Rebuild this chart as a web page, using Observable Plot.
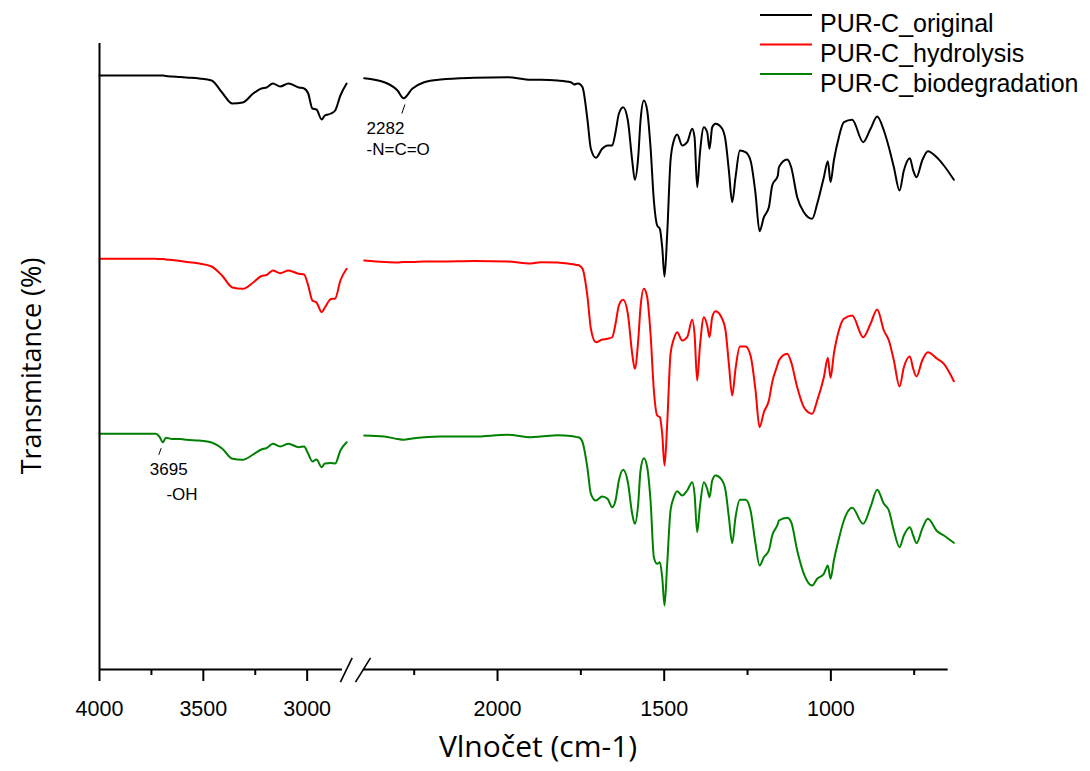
<!DOCTYPE html>
<html><head><meta charset="utf-8">
<script src="https://cdn.jsdelivr.net/npm/d3@7"></script>
<script src="https://cdn.jsdelivr.net/npm/@observablehq/plot@0.6"></script>
<style>
body{margin:0;background:#fff;}
#wrap{position:relative;width:1090px;height:771px;}
#legend{position:absolute;left:760px;top:0px;}
#ytitle{position:absolute;left:0px;top:0px;}
</style></head>
<body><div id="wrap"></div>
<script>
// Wavenumbers (cm-1), left segment of the broken axis
const wnLeft = [4000,3850,3730,3712,3695,3680,3650,3610,3580,3520,3460,3410,3360,3310,3260,3220,3195,3165,3130,3090,3040,3015,2995,2975,2955,2930,2915,2885,2865,2840,2810];
const originalLeft = [594,594,594,594,594,593.5,593,592.5,592,591,589,577,566,567,576,581,582,586,583,586,582,581,576,561,560,550,554,556,559,574,586];
const hydrolysisLeft = [410.7,410.7,410.7,410.5,410.5,410,409.5,408.5,407.5,406,403,394,382,380.7,387,393.5,394.5,399,396.3,399,395.7,395,384,369,367,357.3,362,370.5,371,389,400.7];
const biodegLeft = [235.7,235.7,235.7,233,227.3,231.7,230.5,230.5,229.7,229,227,221,210.7,209.7,215,220,221.5,225.7,223,225.7,222.3,223,215.7,208,210,202.3,206,206.5,206,219,227.3];

// Wavenumbers (cm-1), right segment
const wnRight = [2400,2340,2300,2282,2256,2220,2170,2070,1970,1900,
1870,1820,1780,1770,1760,1755,1745,1730,1720,1705,
1686,1670,1656,1646,1636,1623,1609,1596,1588,1578,
1571,1561,1551,1541,1531,1521,1513,1506,1499,1491,
1481,1471,1461,1446,1431,1416,1409,1401,1393,1381,
1371,1364,1356,1346,1326,1316,1306,1296,1286,1273,
1256,1241,1226,1214,1201,1186,1176,1159,1156,1131,
1119,1101,1081,1056,1041,1021,1009,1001,991,976,
961,936,903,881,861,841,826,811,794,781,
763,753,743,726,709,681,661,631];
const originalRight = [591.3,587.3,579,571.3,580.7,587.3,590,591.7,592.3,589.7,
589.7,589,587.3,585,586,585.7,582.3,549,520.7,511.7,
520.7,524,524,537.3,555.7,562.3,549,509,489.7,512.3,
549,569,559,522.3,469,444,440.7,422.3,393,435.7,
509,529,535,524,527.3,540.7,532.3,482.3,515.7,542.3,
537.3,520.7,542.3,545.7,540.7,529,499,467.3,492.3,519,
517.3,509,475.7,438.3,452.3,462.3,484,494,502.3,510,
502.3,472.3,457.3,450.7,465.7,492.3,508.3,487.3,509,532.3,
547.3,549.7,527.3,540.7,553,539,522.3,502.3,479,499,
511.3,499,492.3,509,518.3,511.7,504,489.7];
const hydrolysisRight = [409,407.5,407,407.5,407.5,408,408,408.5,408,406,
407.3,407,405.5,405,404.5,404,400.7,372.3,340.7,327.3,
330,330.7,332.3,345.7,364,369.7,355.7,315.7,300.7,329,
362.3,380.7,372.3,335.7,279,254,252.3,235.7,204,245.7,
315.7,330.7,337.3,329,332.3,349.7,335.7,289,322.3,352.3,
344,332.3,352.3,358.3,350.7,339,305.7,274,300.7,323,
323,314,279,242.3,257.3,269,287.3,305.7,309,315.7,
307.3,282.3,262.3,255.7,269,292.3,311.7,291.7,315.7,339,
350.7,354,332.3,345.7,360,339,329,309,283,302.3,
313,300.7,293,309,317.3,310.7,305.7,288.3];
const biodegRight = [234,233,230.5,229.7,231,232.3,233,233,234.7,232.3,
233,234.3,233.5,233,232.3,232,227.3,200.7,175.7,169,
173,170.7,162.3,169,189,199.7,187.3,155.7,145.7,165.7,
199,211.3,202.3,169,112.3,105.7,107.3,92.3,64,105.7,
159,172.3,178.3,174,179,187.3,175.7,137.3,162.3,187.3,
180.7,172.3,189,194,189,179,152.3,126.3,152.3,169.7,
169.7,159,125.7,104,112.3,119,134,145.7,149,151.7,
147.3,119,95.7,84,90.7,95.7,104,90.7,109,130.7,
149,161.7,145.7,162.3,179.7,165.7,159,139,122.3,134,
142.3,134,126.3,140.7,150.7,138.3,134,126.7];

const seriesNames = ["PUR-C_original","PUR-C_hydrolysis","PUR-C_biodegradation"];
const seriesColors = ["#000000","#ff0000","#008000"];
const majorTicks = [4000,3500,3000,2000,1500,1000];
const minorTicks = [3750,3250,2250,1750,1250,750];
const xTitle = "Vlnočet (cm-1)";
const yTitle = "Transmitance (%)";

// broken-axis mapping: wavenumber -> continuous axis coordinate
// left part (4000-2800) compressed, short gap (2800-2400), right part (2400-600) full scale
const brk = w => w >= 2800 ? (4000 - w) * 0.623
  : w >= 2400 ? 747.6 + (2800 - w) * 0.11625
  : 794.1 + (2400 - w);
const labelOf = list => p => { const w = list.find(v => Math.abs(brk(v) - p) < 1e-6); return w === undefined ? "" : String(w); };

const seriesData = [[originalLeft, originalRight],[hydrolysisLeft, hydrolysisRight],[biodegLeft, biodegRight]];
const rows = [];
seriesData.forEach(([L, R], i) => {
  wnLeft.forEach((w, j) => rows.push({wn: w, t: L[j], s: seriesNames[i], seg: i + "L"}));
  wnRight.forEach((w, j) => rows.push({wn: w, t: R[j], s: seriesNames[i], seg: i + "R"}));
});

const annIso = [{wn: 2282, t: originalRight[wnRight.indexOf(2282)]}];
const annOH = [{wn: 3695, t: biodegLeft[wnLeft.indexOf(3695)]}];
const X = d => brk(d.wn);

const chart = Plot.plot({
  width: 1090, height: 771,
  marginLeft: 99, marginRight: 126, marginTop: 43, marginBottom: 102,
  x: {domain: [brk(4000), brk(600)], range: [99, 963.7]},
  y: {domain: [0, 626], axis: null},
  color: {domain: seriesNames, range: seriesColors},
  style: {fontFamily: "'Liberation Sans', Arial, sans-serif", background: "white", overflow: "visible"},
  marks: [
    Plot.line(rows, {x: X, y: "t", stroke: "s", z: "seg", strokeWidth: 2, curve: "monotone-x"}),
    Plot.ruleX([brk(4000)], {y1: 0, y2: 626, strokeWidth: 2, stroke: "#000"}),
    Plot.ruleY([0], {x1: brk(4000), x2: brk(2830), strokeWidth: 2, stroke: "#000"}),
    Plot.ruleY([0], {x1: brk(2420), x2: brk(648), strokeWidth: 2, stroke: "#000"}),
    Plot.link([{a: 2840, y1: -12.7, b: 2710, y2: 11.7}, {a: 2625, y1: -12.7, b: 2381, y2: 11.7}],
      {x1: d => brk(d.a), y1: "y1", x2: d => brk(d.b), y2: "y2", stroke: "#000", strokeWidth: 1.6}),
    Plot.axisX({ticks: majorTicks.map(brk), tickSize: 12, tickPadding: 19, fontSize: 21.5, label: null,
      tickFormat: labelOf(majorTicks), strokeWidth: 2}),
    Plot.axisX({ticks: minorTicks.map(brk), tickSize: 6, label: null, tickFormat: () => "", strokeWidth: 2}),
    // annotations
    Plot.text(annIso, {x: X, y: "t", text: () => "2282\n-N=C=O", textAnchor: "start", lineAnchor: "top",
      dx: -37, dy: 20, fontSize: 17, lineHeight: 1.28, fill: "#000"}),
    Plot.link(annIso, {x1: d => brk(d.wn - 4), y1: d => d.t - 6.3, x2: d => brk(d.wn + 5), y2: d => d.t - 15.3, stroke: "#000", strokeWidth: 1}),
    Plot.text(annOH, {x: X, y: "t", text: () => "3695", textAnchor: "start", lineAnchor: "top",
      dx: -13, dy: 21, fontSize: 17, fill: "#000"}),
    Plot.text(annOH, {x: X, y: "t", text: () => "-OH", textAnchor: "start", lineAnchor: "top",
      dx: 3.6, dy: 45.6, fontSize: 17, fill: "#000"}),
    Plot.link(annOH, {x1: d => brk(d.wn + 8), y1: d => d.t - 6, x2: d => brk(d.wn + 19.5), y2: d => d.t - 12.6, stroke: "#000", strokeWidth: 1}),
    // x title
    Plot.text([xTitle], {frameAnchor: "bottom", lineAnchor: "middle", dx: 6, dy: 78, fontSize: 30, fontFamily: "'Open Sans', sans-serif", fill: "#000"})
  ]
});

const wrap = document.getElementById("wrap");
wrap.appendChild(chart);

// y title
const yt = d3.select(wrap).append("svg").attr("id", "ytitle").attr("width", 70).attr("height", 771);
yt.append("text").attr("transform", "translate(30,366) rotate(-90)")
  .attr("text-anchor", "middle").attr("dominant-baseline", "central")
  .attr("font-family", "'Open Sans', sans-serif").attr("font-size", 27).attr("fill", "#000")
  .text(yTitle);

// legend
const leg = d3.select(wrap).append("svg").attr("id", "legend").attr("width", 330).attr("height", 100);
seriesNames.forEach((name, i) => {
  const g = leg.append("g").attr("transform", `translate(0,${15 + i * 29.5})`);
  g.append("line").attr("x1", 0).attr("x2", 52).attr("y1", 0).attr("y2", 0)
    .attr("stroke", seriesColors[i]).attr("stroke-width", 2);
  g.append("text").attr("x", 60).attr("y", 16.7 + i * 0.5).text(name)
    .attr("font-family", "'Liberation Sans', Arial, sans-serif").attr("font-size", 25).attr("fill", "#000");
});
</script>
</body></html>
